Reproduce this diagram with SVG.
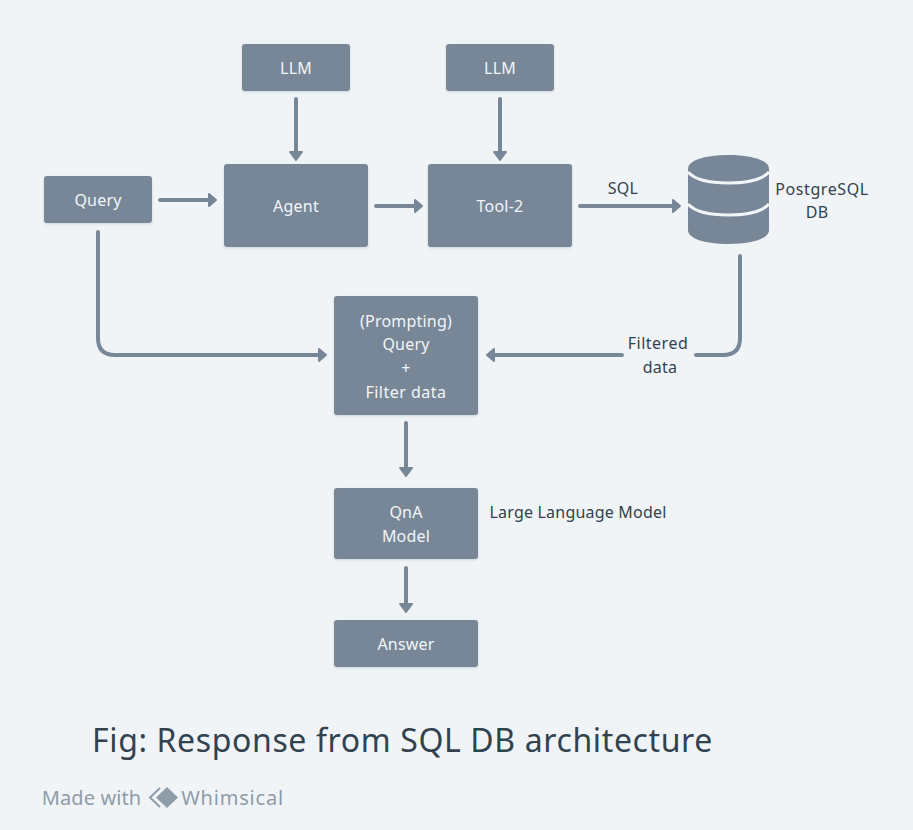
<svg xmlns="http://www.w3.org/2000/svg" width="913" height="830" viewBox="0 0 913 830">
<style>
text{font-family:"Noto Sans","Open Sans","Liberation Sans",sans-serif;font-size:16px;text-anchor:middle;letter-spacing:.2px}
.n{fill:#788797;filter:url(#s)}
.w{fill:#f1f5f8}
.d{fill:#32424f}
.c{fill:none;stroke:#788797;stroke-width:4;stroke-linecap:round;stroke-linejoin:round}
.a{fill:#788797;stroke:#788797;stroke-width:2;stroke-linejoin:round}
</style>
<defs><filter id="s" x="-10%" y="-10%" width="120%" height="125%"><feDropShadow dx="0" dy="1" stdDeviation="1" flood-color="#32465a" flood-opacity=".18"/></filter></defs>
<rect width="913" height="830" fill="#f0f4f7"/>
<g id="connectors">
<path class="c" d="M296 99V153"/><path class="a" d="M290 152h12l-6 8z"/>
<path class="c" d="M500 99V153"/><path class="a" d="M494 152h12l-6 8z"/>
<path class="c" d="M160 200H209"/><path class="a" d="M209 194v12l7-6z"/>
<path class="c" d="M376 206H415"/><path class="a" d="M415 200v12l7-6z"/>
<path class="c" d="M580 206H673"/><path class="a" d="M673 200v12l7-6z"/>
<path class="c" d="M98 232V338Q98 355 115 355H319"/><path class="a" d="M319 349v12l7-6z"/>
<path class="c" d="M740 256V338Q740 355 723 355H696"/>
<path class="c" d="M622 355H494"/><path class="a" d="M494 349v12l-7-6z"/>
<path class="c" d="M406 423V469"/><path class="a" d="M400 468h12l-6 8z"/>
<path class="c" d="M406 568V605"/><path class="a" d="M400 604h12l-6 8z"/>
</g>
<g id="llm1"><rect class="n" x="242" y="44" width="108" height="47" rx="3"/><text class="w" x="296" y="74">LLM</text></g>
<g id="llm2"><rect class="n" x="446" y="44" width="108" height="47" rx="3"/><text class="w" x="500" y="74">LLM</text></g>
<g id="query"><rect class="n" x="44" y="176" width="108" height="47" rx="3"/><text class="w" x="98" y="206">Query</text></g>
<g id="agent"><rect class="n" x="224" y="164" width="144" height="83" rx="3"/><text class="w" x="296" y="212">Agent</text></g>
<g id="tool"><rect class="n" x="428" y="164" width="144" height="83" rx="3"/><text class="w" x="500" y="212">Tool-2</text></g>
<g id="db">
<path fill="#788797" d="M688 169C688 160 706 155 728.500 155C751 155 769 160 769 169V230C769 239 751 244 728.500 244C706 244 688 239 688 230Z"/>
<path fill="none" stroke="#f1f5f8" stroke-width="3" d="M688 172C695 180 712 183 728.500 183C745 183 762 180 769 172M688 204C695 212 712 215 728.500 215C745 215 762 212 769 204"/>
<text class="d" x="822" y="195" style="letter-spacing:.6px">PostgreSQL</text><text class="d" x="817" y="218">DB</text>
</g>
<g id="prompt"><rect class="n" x="334" y="296" width="144" height="119" rx="3"/>
<text class="w" x="406" y="327">(Prompting)</text><text class="w" x="406" y="350">Query</text><text class="w" x="406" y="374">+</text><text class="w" x="406" y="398" style="letter-spacing:.5px">Filter data</text></g>
<g id="filtered"><text class="d" x="658" y="349" style="letter-spacing:.5px">Filtered</text><text class="d" x="660" y="373">data</text></g>
<g id="qna"><rect class="n" x="334" y="488" width="144" height="71" rx="3"/><text class="w" x="406" y="518">QnA</text><text class="w" x="406" y="542">Model</text></g>
<g id="llmlabel"><text class="d" x="578" y="518">Large Language Model</text></g>
<g id="answer"><rect class="n" x="334" y="620" width="144" height="47" rx="3"/><text class="w" x="406" y="650">Answer</text></g>
<text class="d" x="623" y="194">SQL</text>
<text class="d" x="402.500" y="752" style="font-size:32px;letter-spacing:.62px">Fig: Response from SQL DB architecture</text>
<g id="brand" fill="#8f9ca9">
<text x="91.500" y="805" style="font-size:20px;fill:#8f9ca9;letter-spacing:.1px">Made with</text>
<path fill="none" stroke="#8f9ca9" stroke-width="2" d="M160 788L150 797.500L160 807"/>
<path d="M167 787L178 797.500L167 808L156 797.500Z"/>
<text x="232.500" y="805" style="font-size:20px;fill:#8f9ca9;letter-spacing:.8px">Whimsical</text>
</g>
</svg>
